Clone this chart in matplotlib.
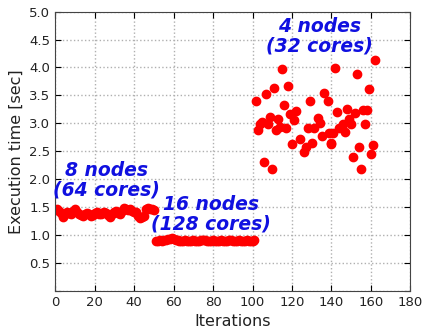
import matplotlib
matplotlib.use('Agg')
import matplotlib.pyplot as plt

# 8 nodes (64 cores)
it_8 = list(range(0, 51))
t_8 = [1.45, 1.46, 1.44, 1.40, 1.33, 1.38, 1.41, 1.40, 1.38, 1.43, 1.47,
       1.42, 1.38, 1.36, 1.35, 1.37, 1.39, 1.38, 1.34, 1.36, 1.40, 1.41,
       1.38, 1.37, 1.39, 1.42, 1.40, 1.36, 1.33, 1.37, 1.41, 1.43, 1.40,
       1.38, 1.44, 1.48, 1.47, 1.45, 1.46, 1.43, 1.42, 1.41, 1.35, 1.30,
       1.32, 1.34, 1.46, 1.48, 1.47, 1.46, 1.45]

# 16 nodes (128 cores)
it_16 = list(range(51, 102))
t_16 = [0.90, 0.89, 0.91, 0.90, 0.92, 0.91, 0.93, 0.94, 0.95, 0.93, 0.92,
        0.91, 0.90, 0.89, 0.90, 0.91, 0.90, 0.89, 0.90, 0.91, 0.90, 0.89,
        0.90, 0.91, 0.92, 0.91, 0.90, 0.89, 0.90, 0.91, 0.90, 0.89, 0.90,
        0.91, 0.90, 0.89, 0.90, 0.91, 0.92, 0.90, 0.89, 0.90, 0.91, 0.90,
        0.89, 0.90, 0.91, 0.90, 0.89, 0.90, 0.91]

# 4 nodes (32 cores)
it_4 = [102, 103, 104, 105, 106, 107, 108, 109, 110, 111, 112, 113, 114,
        115, 116, 117, 118, 119, 120, 121, 122, 124, 126, 127, 128, 129,
        130, 131, 133, 134, 135, 136, 138, 139, 140, 140, 141, 142, 143,
        144, 146, 147, 148, 149, 150, 151, 152, 153, 154, 155, 156, 157,
        158, 159, 160, 161, 162]
t_4 = [3.40, 2.88, 2.99, 3.03, 2.30, 3.53, 2.99, 3.12, 2.19, 3.63, 2.88,
       3.07, 2.93, 3.98, 3.32, 2.92, 3.67, 3.17, 2.63, 3.06, 3.22, 2.72,
       2.49, 2.58, 2.92, 3.40, 2.64, 2.91, 3.09, 3.00, 2.77, 3.54, 3.40,
       2.82, 2.64, 2.63, 2.83, 3.99, 3.21, 2.91, 2.99, 2.85, 3.26, 3.07,
       2.99, 2.40, 3.19, 3.89, 2.58, 2.19, 3.23, 2.99, 3.24, 3.61, 2.46,
       2.61, 4.14]

fig = plt.figure(figsize=(4.24, 3.30), dpi=100)
ax = fig.add_axes([0.13, 0.118, 0.838, 0.847])

for x, y in [(it_8, t_8), (it_16, t_16), (it_4, t_4)]:
    ax.plot(x, y, 'o', color='red', markeredgecolor='red', markersize=6)

txt = dict(color='#1010e0', fontsize=13.5, fontweight='bold', fontstyle='italic',
           ha='center', va='center', linespacing=1.05)
ax.text(26, 1.98, '8 nodes\n(64 cores)', **txt)
ax.text(79, 1.38, '16 nodes\n(128 cores)', **txt)
ax.text(134, 4.56, '4 nodes\n(32 cores)', **txt)

ax.set_xlim(0, 180)
ax.set_ylim(0, 5)
ax.set_xticks(range(0, 181, 20))
ax.set_yticks([0, 0.5, 1, 1.5, 2, 2.5, 3, 3.5, 4, 4.5, 5])
ax.set_yticklabels(['', '0.5', '1.0', '1.5', '2.0', '2.5', '3.0', '3.5',
                    '4.0', '4.5', '5.0'])
ax.tick_params(direction='in', top=True, right=True, labelsize=9.5,
               labelcolor='#222222', length=4)
ax.grid(True, linestyle=':', color='#b0b0b0', linewidth=1)
ax.set_axisbelow(True)
for s in ax.spines.values():
    s.set_color('#444444')
ax.set_xlabel('Iterations', fontsize=11.5, color='#222222')
ax.set_ylabel('Execution time [sec]', fontsize=11.5, color='#222222')

plt.savefig('out.png', dpi=100)
